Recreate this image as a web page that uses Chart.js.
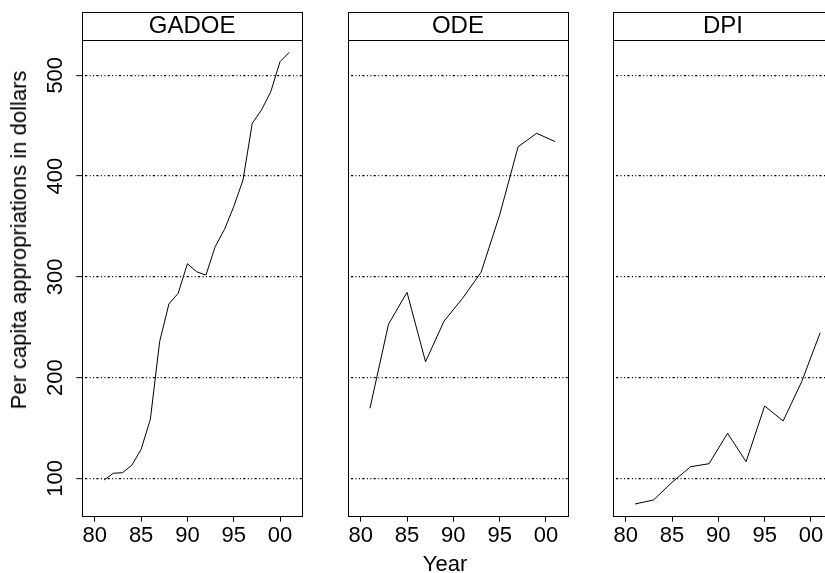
<!DOCTYPE html>
<html><head><meta charset="utf-8">
<script src="https://cdn.jsdelivr.net/npm/chart.js@4.4.1/dist/chart.umd.min.js"></script>
<style>
html,body{margin:0;padding:0;background:#fff;overflow:hidden;width:825px;height:573px;}
#wrap{position:relative;width:825px;height:573px;overflow:hidden;background:#fff;}
.pc{position:absolute;top:0;height:573px;}
.pc canvas{display:block;}
.lbl{position:absolute;font-family:"Liberation Sans",Arial,Helvetica,sans-serif;font-size:22px;line-height:22px;color:#000;white-space:nowrap;}
</style></head><body>
<div id="wrap">
  <div class="pc" style="left:0px;width:320px"><canvas id="c1" width="320" height="573"></canvas></div>
  <div class="pc" style="left:325px;width:260px"><canvas id="c2" width="260" height="573"></canvas></div>
  <div class="pc" style="left:590px;width:260px"><canvas id="c3" width="260" height="573"></canvas></div>
  <div class="lbl" id="ylab" style="left:19.2px;top:240px;transform:translate(-50%,-50%) rotate(-90deg);">Per capita appropriations in dollars</div>
  <div class="lbl" id="xlab" style="left:445px;top:553px;transform:translateX(-50%);">Year</div>
</div>
<script>
// ---- data ----
const panelNames = ["GADOE", "ODE", "DPI"];
const gadoeYears = [81,82,83,84,85,86,87,88,89,90,91,92,93,94,95,96,97,98,99,100,101];
const gadoeValues = [98.3,105,105.6,113,128.8,158.6,235.6,273,283.6,313,305,301.7,330,347,369.6,396,452.3,465.6,483.7,513.5,522.8];
const odeYears = [81,83,85,87,89,91,93,95,97,99,101];
const odeValues = [169.5,252.9,284.6,215.7,256,278.7,304.5,361.4,429.1,442.4,434.1];
const dpiYears = [81,83,85,87,89,91,93,95,97,99,101];
const dpiValues = [74.5,78.5,96,111.5,114.5,144.7,116.5,171.8,156.9,195.9,244.5];
const xTicks = [80,85,90,95,100];
const xTickLabels = ["80","85","90","95","00"];
const yTicks = [100,200,300,400,500];
const yTickLabels = ["100","200","300","400","500"];

// ---- layout/style ----
const X_MIN = 78.65, X_MAX = 102.35;
const Y_MIN = 62.9, Y_MAX = 535;
const H = 573, PLOT_BOTTOM = 515.7;
const FONT = '"Liberation Sans", Arial, Helvetica, sans-serif';
Chart.defaults.font.family = FONT;
Chart.defaults.color = '#000';

const boxPlugin = {
  id: 'panelBox',
  afterDraw(chart) {
    const ctx = chart.ctx, a = chart.chartArea;
    const tb = chart.titleBlock;
    const stripTop = tb ? tb.top : 12;
    const l = Math.round(a.left) + 0.5, r = Math.round(a.right) + 0.5;
    const t = Math.round(a.top) + 0.5, b = Math.round(a.bottom) + 0.5;
    const st = Math.round(stripTop) + 0.5;
    ctx.save();
    ctx.strokeStyle = '#000';
    ctx.lineWidth = 1;
    ctx.strokeRect(l, t, r - l, b - t);
    ctx.strokeRect(l, st, r - l, t - st);
    ctx.restore();
  }
};

function makePanel(id, title, xs, ys, showY, padLeft, padRight) {
  return new Chart(document.getElementById(id), {
    type: 'line',
    data: {
      datasets: [{
        data: xs.map((x, i) => ({x: x, y: ys[i]})),
        borderColor: '#000', borderWidth: 1, pointRadius: 0, tension: 0, fill: false
      }]
    },
    options: {
      responsive: false, animation: false, events: [],
      layout: {padding: {top: 12, left: padLeft, right: padRight, bottom: 0}},
      plugins: {
        legend: {display: false},
        tooltip: {enabled: false},
        title: {display: true, text: title, fullSize: false, color: '#000',
                font: {size: 24, weight: 'normal', lineHeight: 28/24}, padding: 0}
      },
      scales: {
        x: {
          type: 'linear', min: X_MIN, max: X_MAX,
          afterBuildTicks: s => { s.ticks = xTicks.map(v => ({value: v})); },
          afterFit: s => { s.height = H - PLOT_BOTTOM; },
          ticks: {
            callback: (v) => { const i = xTicks.indexOf(v); return i >= 0 ? xTickLabels[i] : ''; },
            font: {size: 22}, color: '#000', padding: 1, maxRotation: 0, minRotation: 0, autoSkip: false
          },
          grid: {display: true, drawOnChartArea: false, drawTicks: true, tickLength: 6, tickColor: '#000', tickWidth: 1},
          border: {display: false}
        },
        y: {
          type: 'linear', min: Y_MIN, max: Y_MAX,
          afterBuildTicks: s => { s.ticks = yTicks.map(v => ({value: v})); },
          afterFit: s => { s.width = showY ? 82.3 : 0; },
          ticks: {
            display: showY,
            callback: (v) => { const i = yTicks.indexOf(v); return i >= 0 ? yTickLabels[i] : ''; },
            font: {size: 22}, color: '#000', padding: 2, minRotation: 90, maxRotation: 90, crossAlign: 'center', autoSkip: false
          },
          grid: {display: true, drawOnChartArea: true, drawTicks: showY, tickLength: 6, tickColor: '#000', tickWidth: 1,
                 color: '#000', lineWidth: 1.3},
          border: {display: false, dash: [2.2, 2.4, 1, 2.4, 1, 2.3], dashOffset: -3}
        }
      }
    },
    plugins: [boxPlugin]
  });
}

makePanel('c1', panelNames[0], gadoeYears, gadoeValues, true, 0, 18.2);
makePanel('c2', panelNames[1], odeYears, odeValues, false, 23.2, 17.3);
makePanel('c3', panelNames[2], dpiYears, dpiValues, false, 23.2, 17.3);
</script>
</body></html>
